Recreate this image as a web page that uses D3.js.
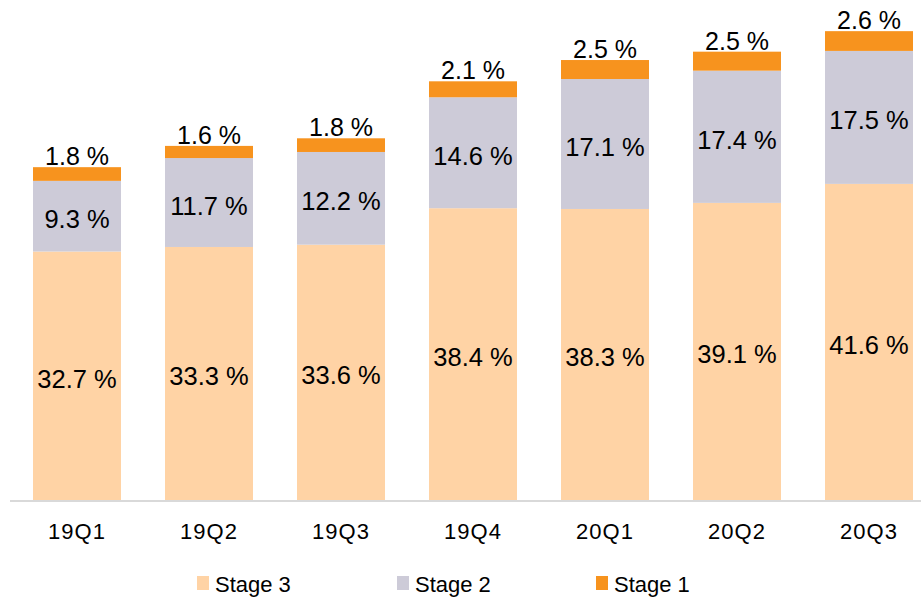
<!DOCTYPE html>
<html>
<head>
<meta charset="utf-8">
<script src="https://cdn.jsdelivr.net/npm/d3@7"></script>
<style>
  body { margin: 0; background: #fff; }
  text { font-family: Arial, "Liberation Sans", sans-serif; fill: #000; }
</style>
</head>
<body>
<script>
var quarters = ["19Q1", "19Q2", "19Q3", "19Q4", "20Q1", "20Q2", "20Q3"];
var stage3 = [32.7, 33.3, 33.6, 38.4, 38.3, 39.1, 41.6];
var stage2 = [9.3, 11.7, 12.2, 14.6, 17.1, 17.4, 17.5];
var stage1 = [1.8, 1.6, 1.8, 2.1, 2.5, 2.5, 2.6];
var seriesNames = ["Stage 3", "Stage 2", "Stage 1"];
var colors = ["#ffd3a5", "#cdcbd8", "#f7931e"];

var width = 921, height = 599;

var svg = d3.select("body").append("svg")
    .attr("width", width)
    .attr("height", height);

var rows = quarters.map(function(q, i) {
  return {q: q, "Stage 3": stage3[i], "Stage 2": stage2[i], "Stage 1": stage1[i]};
});

var stack = d3.stack().keys(seriesNames);
var layers = stack(rows);

var x = d3.scaleBand()
    .domain(quarters)
    .range([11, 935])
    .paddingInner(1 / 3)
    .paddingOuter(1 / 6);

var y = d3.scaleLinear()
    .domain([0, 65.8])
    .range([500, 0]);

// bars
var layer = svg.selectAll(".layer")
    .data(layers)
  .enter().append("g")
    .attr("class", "layer")
    .attr("fill", function(d, i) { return colors[i]; });

layer.selectAll("rect")
    .data(function(d) { return d; })
  .enter().append("rect")
    .attr("x", function(d) { return x(d.data.q); })
    .attr("width", x.bandwidth())
    .attr("y", function(d) { return y(d[1]); })
    .attr("height", function(d) { return y(d[0]) - y(d[1]); });

// axis line
svg.append("line")
    .attr("x1", 10).attr("x2", 921)
    .attr("y1", 501).attr("y2", 501)
    .attr("stroke", "#d9d9d9")
    .attr("stroke-width", 2);

// category labels
svg.selectAll(".xlab")
    .data(quarters)
  .enter().append("text")
    .attr("class", "xlab")
    .attr("x", function(d) { return x(d) + x.bandwidth() / 2; })
    .attr("y", 539)
    .attr("text-anchor", "middle")
    .style("font-size", "22px")
    .style("letter-spacing", "1px")
    .text(function(d) { return d; });

// value labels inside stage 3 and stage 2
[0, 1].forEach(function(k) {
  svg.selectAll(".lab" + k)
      .data(layers[k])
    .enter().append("text")
      .attr("x", function(d) { return x(d.data.q) + x.bandwidth() / 2; })
      .attr("y", function(d) { return (y(d[0]) + y(d[1])) / 2 + 12; })
      .attr("text-anchor", "middle")
      .style("font-size", "25.5px")
      .text(function(d) { return d.data[seriesNames[k]].toFixed(1) + " %"; });
});

// stage 1 labels on top
svg.selectAll(".lab2")
    .data(layers[2])
  .enter().append("text")
    .attr("x", function(d) { return x(d.data.q) + x.bandwidth() / 2; })
    .attr("y", function(d) { return y(d[1]) - 2; })
    .attr("text-anchor", "middle")
    .style("font-size", "25px")
    .text(function(d) { return d.data["Stage 1"].toFixed(1) + " %"; });

// legend
var legendX = [197, 397, 596];
var legend = svg.selectAll(".legend")
    .data(seriesNames)
  .enter().append("g")
    .attr("class", "legend")
    .attr("transform", function(d, i) { return "translate(" + legendX[i] + ",576)"; });

legend.append("rect")
    .attr("width", 12)
    .attr("height", 14)
    .attr("fill", function(d, i) { return colors[i]; });

legend.append("text")
    .attr("x", 18)
    .attr("y", 16)
    .style("font-size", "22px")
    .text(function(d) { return d; });
</script>
</body>
</html>
